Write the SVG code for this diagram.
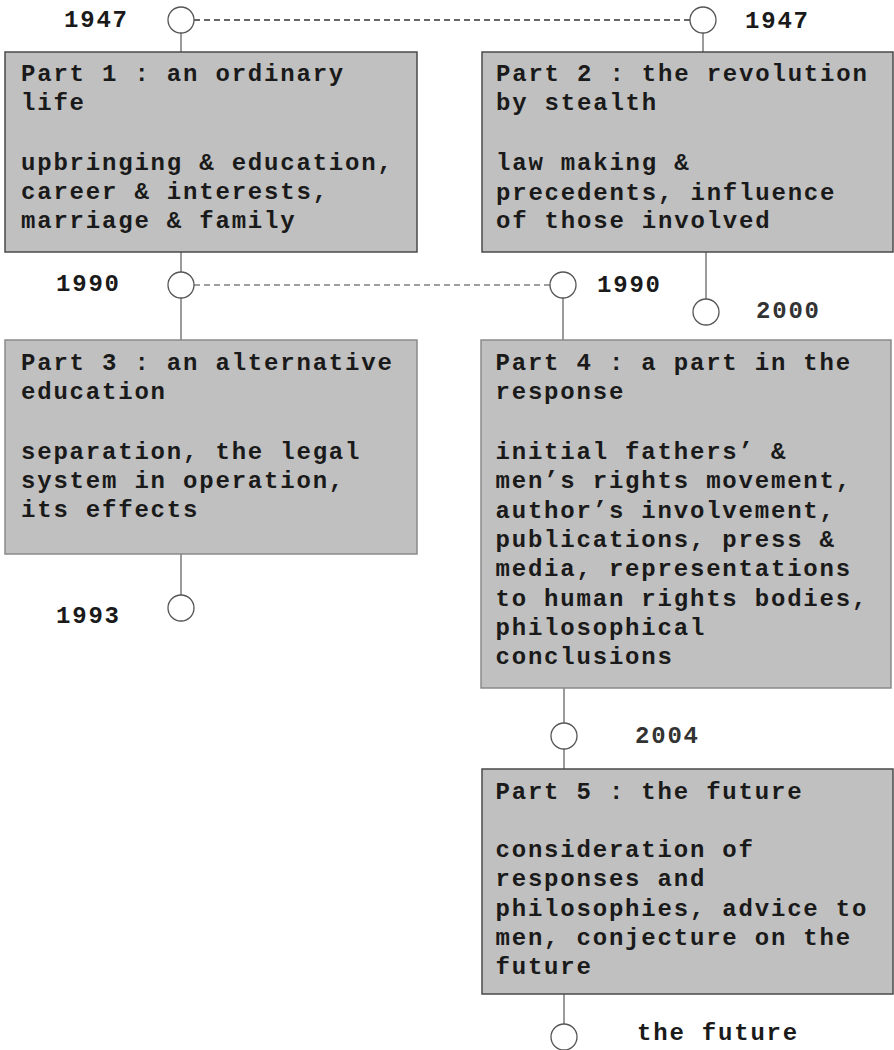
<svg xmlns="http://www.w3.org/2000/svg" width="894" height="1050" viewBox="0 0 894 1050">
<style>
  .box{fill:#c0c0c0;stroke:#4a4a4a;stroke-width:1.5}
  .box.light{stroke:#8a8a8a}
  .t{font-family:"Liberation Mono","Courier New",monospace;font-size:24px;font-weight:bold;letter-spacing:1.8px;fill:#1a1a1a}
  .yr{font-family:"Liberation Mono","Courier New",monospace;font-size:24px;font-weight:bold;letter-spacing:1.8px;fill:#1a1a1a}
  .yr.n{fill:#333}
  .ln{stroke:#7a7a7a;stroke-width:1.5;fill:none}
  .dash1{stroke:#333;stroke-width:1.3;stroke-dasharray:6 4;fill:none}
  .dash2{stroke:#808080;stroke-width:1.3;stroke-dasharray:6 4;fill:none}
  .c{fill:#fff;stroke:#555;stroke-width:1.3}
</style>
<rect width="894" height="1050" fill="#fff"/>
<g id="connectors">
  <line class="dash1" x1="194" y1="20" x2="690" y2="20"/>
  <line class="dash2" x1="194" y1="285" x2="550" y2="285"/>
  <line class="ln" x1="181" y1="33" x2="181" y2="52"/>
  <line class="ln" x1="703" y1="33" x2="703" y2="52"/>
  <line class="ln" x1="181" y1="252" x2="181" y2="272"/>
  <line class="ln" x1="181" y1="298" x2="181" y2="340"/>
  <line class="ln" x1="706" y1="252" x2="706" y2="299"/>
  <line class="ln" x1="563" y1="298" x2="563" y2="340"/>
  <line class="ln" x1="181" y1="554" x2="181" y2="595"/>
  <line class="ln" x1="564" y1="688" x2="564" y2="723"/>
  <line class="ln" x1="564" y1="749" x2="564" y2="769"/>
  <line class="ln" x1="564" y1="994" x2="564" y2="1024"/>
</g>
<g id="part1">
  <rect class="box" x="5" y="52" width="412" height="200"/>
  <text class="t" x="21" y="81">Part 1 : an ordinary</text>
  <text class="t" x="21" y="110">life</text>
  <text class="t" x="21" y="169.5">upbringing &amp; education,</text>
  <text class="t" x="21" y="199">career &amp; interests,</text>
  <text class="t" x="21" y="228">marriage &amp; family</text>
</g>
<g id="part2">
  <rect class="box" x="482" y="52" width="411" height="200"/>
  <text class="t" x="496" y="81">Part 2 : the revolution</text>
  <text class="t" x="496" y="110">by stealth</text>
  <text class="t" x="496" y="170">law making &amp;</text>
  <text class="t" x="496" y="199.5">precedents, influence</text>
  <text class="t" x="496" y="228">of those involved</text>
</g>
<g id="part3">
  <rect class="box light" x="5" y="340" width="412" height="214"/>
  <text class="t" x="21" y="369.5">Part 3 : an alternative</text>
  <text class="t" x="21" y="399">education</text>
  <text class="t" x="21" y="458.5">separation, the legal</text>
  <text class="t" x="21" y="488">system in operation,</text>
  <text class="t" x="21" y="517">its effects</text>
</g>
<g id="part4">
  <rect class="box light" x="481" y="340" width="410" height="348"/>
  <text class="t" x="495.5" y="369.5">Part 4 : a part in the</text>
  <text class="t" x="495.5" y="398.5">response</text>
  <text class="t" x="495.5" y="458.5">initial fathers’ &amp;</text>
  <text class="t" x="495.5" y="488">men’s rights movement,</text>
  <text class="t" x="495.5" y="517.5">author’s involvement,</text>
  <text class="t" x="495.5" y="546.5">publications, press &amp;</text>
  <text class="t" x="495.5" y="576">media, representations</text>
  <text class="t" x="495.5" y="605.5">to human rights bodies,</text>
  <text class="t" x="495.5" y="634.5">philosophical</text>
  <text class="t" x="495.5" y="663.5">conclusions</text>
</g>
<g id="part5">
  <rect class="box" x="482" y="769" width="411" height="225"/>
  <text class="t" x="495.5" y="798.5">Part 5 : the future</text>
  <text class="t" x="495.5" y="857">consideration of</text>
  <text class="t" x="495.5" y="886">responses and</text>
  <text class="t" x="495.5" y="915.5">philosophies, advice to</text>
  <text class="t" x="495.5" y="945">men, conjecture on the</text>
  <text class="t" x="495.5" y="974">future</text>
</g>
<g id="m1947a">
  <circle class="c" cx="181" cy="20" r="13"/>
  <text class="yr" x="64" y="27">1947</text>
</g>
<g id="m1947b">
  <circle class="c" cx="703" cy="20" r="13"/>
  <text class="yr" x="745" y="28">1947</text>
</g>
<g id="m1990a">
  <circle class="c" cx="181" cy="285" r="13"/>
  <text class="yr" x="56" y="291">1990</text>
</g>
<g id="m1990b">
  <circle class="c" cx="563" cy="285" r="13"/>
  <text class="yr" x="597" y="292">1990</text>
</g>
<g id="m2000">
  <circle class="c" cx="706" cy="312" r="13"/>
  <text class="yr n" x="756" y="318">2000</text>
</g>
<g id="m1993">
  <circle class="c" cx="181" cy="608" r="13"/>
  <text class="yr" x="56" y="623">1993</text>
</g>
<g id="m2004">
  <circle class="c" cx="564" cy="736" r="13"/>
  <text class="yr n" x="635" y="743">2004</text>
</g>
<g id="mfuture">
  <circle class="c" cx="564" cy="1037" r="13"/>
  <text class="yr" x="637" y="1040">the future</text>
</g>
</svg>
